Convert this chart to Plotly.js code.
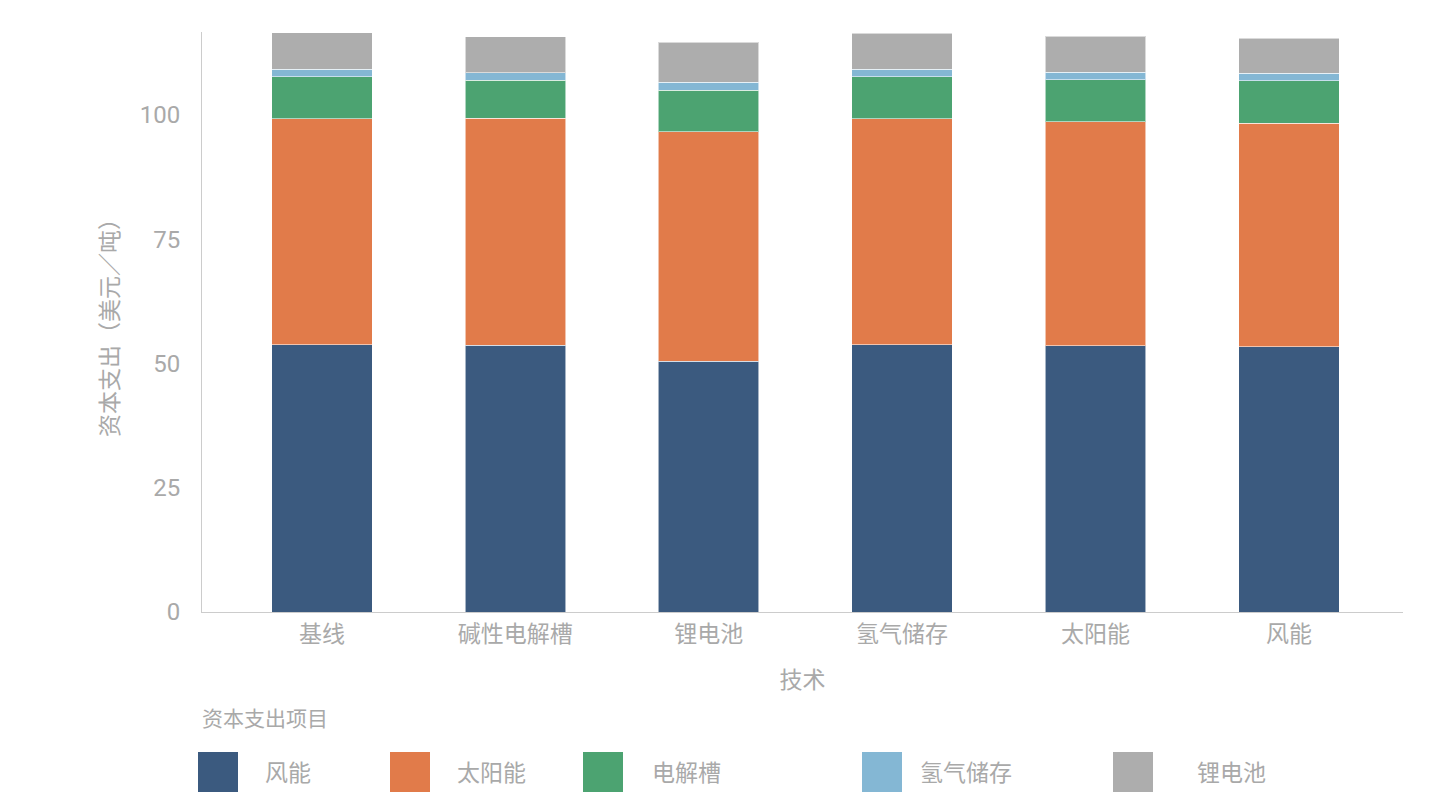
<!DOCTYPE html>
<html>
<head>
<meta charset="utf-8">
<script src="https://cdn.plot.ly/plotly-3.0.1.min.js"></script>
<style>
  html, body { margin: 0; padding: 0; background: #fff; }
  #chart { width: 1442px; height: 808px; }
</style>
</head>
<body>
<div id="chart"></div>
<script>
// categories on the x axis
const technologies = ['基线', '碱性电解槽', '锂电池', '氢气储存', '太阳能', '风能'];

// stacked series (bottom to top)
const seriesNames = ['风能', '太阳能', '电解槽', '氢气储存', '锂电池'];
const windCost     = [53.8, 53.7, 50.5, 53.8, 53.6, 53.4];
const solarCost    = [45.4, 45.6, 46.1, 45.4, 45.0, 44.9];
const electrolyzer = [8.5, 7.7, 8.4, 8.5, 8.5, 8.6];
const h2Storage    = [1.5, 1.5, 1.6, 1.5, 1.5, 1.5];
const liBattery    = [7.3, 7.2, 8.0, 7.2, 7.2, 7.0];
const yTicks = [0, 25, 50, 75, 100];

const seriesValues = [windCost, solarCost, electrolyzer, h2Storage, liBattery];
const seriesColors = ['#3b5a7f', '#e17b4a', '#4ca371', '#84b7d4', '#adadad'];

const FONT = 'Roboto, "Noto Sans CJK SC", sans-serif';
const CJK = '"Noto Sans CJK SC", "Noto Sans", sans-serif';
const GREY = '#a9a9a9';

const traces = seriesNames.map((name, i) => ({
    type: 'bar',
    name: name,
    x: technologies,
    y: seriesValues[i],
    width: 0.52,
    marker: { color: seriesColors[i], line: { color: 'rgba(255,255,255,0.55)', width: 1 } },
    showlegend: false,
    hoverinfo: 'x+y+name'
}));

const W = 1442, H = 808;
const margin = { l: 202, r: 39, t: 32, b: 196 };
const plotW = W - margin.l - margin.r, plotH = H - margin.t - margin.b;
// page pixel -> paper fraction
const toPaperX = v => (v - margin.l) / plotW;
const toPaperY = v => (H - margin.b - v) / plotH;

// hand-built legend: big square swatches under the plot
const legendX = [198, 390, 583, 862, 1113];      // swatch left edge, px
const legendLabelX = [263, 455, 650, 918, 1195];

const shapes = seriesNames.map((n, i) => ({
    type: 'rect', xref: 'paper', yref: 'paper',
    x0: toPaperX(legendX[i]), x1: toPaperX(legendX[i] + 40),
    y0: toPaperY(792), y1: toPaperY(752),
    fillcolor: seriesColors[i], line: { width: 0 }
}));

const annotations = seriesNames.map((n, i) => ({
    xref: 'paper', yref: 'paper',
    x: toPaperX(legendLabelX[i]), y: toPaperY(771),
    xanchor: 'left', yanchor: 'middle',
    text: n, showarrow: false,
    font: { family: CJK, size: 23, color: GREY }
}));
annotations.push({
    xref: 'paper', yref: 'paper',
    x: toPaperX(200), y: toPaperY(717),
    xanchor: 'left', yanchor: 'middle',
    text: '资本支出项目', showarrow: false,
    font: { family: CJK, size: 21, color: GREY }
});

const layout = {
    width: W,
    height: H,
    margin: margin,
    barmode: 'stack',
    paper_bgcolor: '#fff',
    plot_bgcolor: '#fff',
    font: { family: FONT, color: GREY },
    xaxis: {
        type: 'category',
        range: [-0.62, 5.59],
        showline: true, linecolor: '#cccccc', linewidth: 1,
        showgrid: false, zeroline: false,
        ticks: '',
        ticklabelstandoff: 1,
        tickfont: { family: CJK, size: 23, color: GREY },
        title: { text: '技术', font: { family: CJK, size: 23, color: GREY }, standoff: 24 }
    },
    yaxis: {
        range: [0, 116.7],
        tickvals: yTicks,
        showline: true, linecolor: '#cccccc', linewidth: 1,
        showgrid: false, zeroline: false,
        ticks: '',
        ticklabelstandoff: 16,
        tickfont: { family: FONT, size: 24, color: GREY },
        title: { text: '资本支出（美元／吨）', font: { family: CJK, size: 23, color: GREY }, standoff: 14 }
    },
    shapes: shapes,
    annotations: annotations,
    showlegend: false
};

Plotly.newPlot('chart', traces, layout, { displayModeBar: false, responsive: false });
</script>
</body>
</html>
